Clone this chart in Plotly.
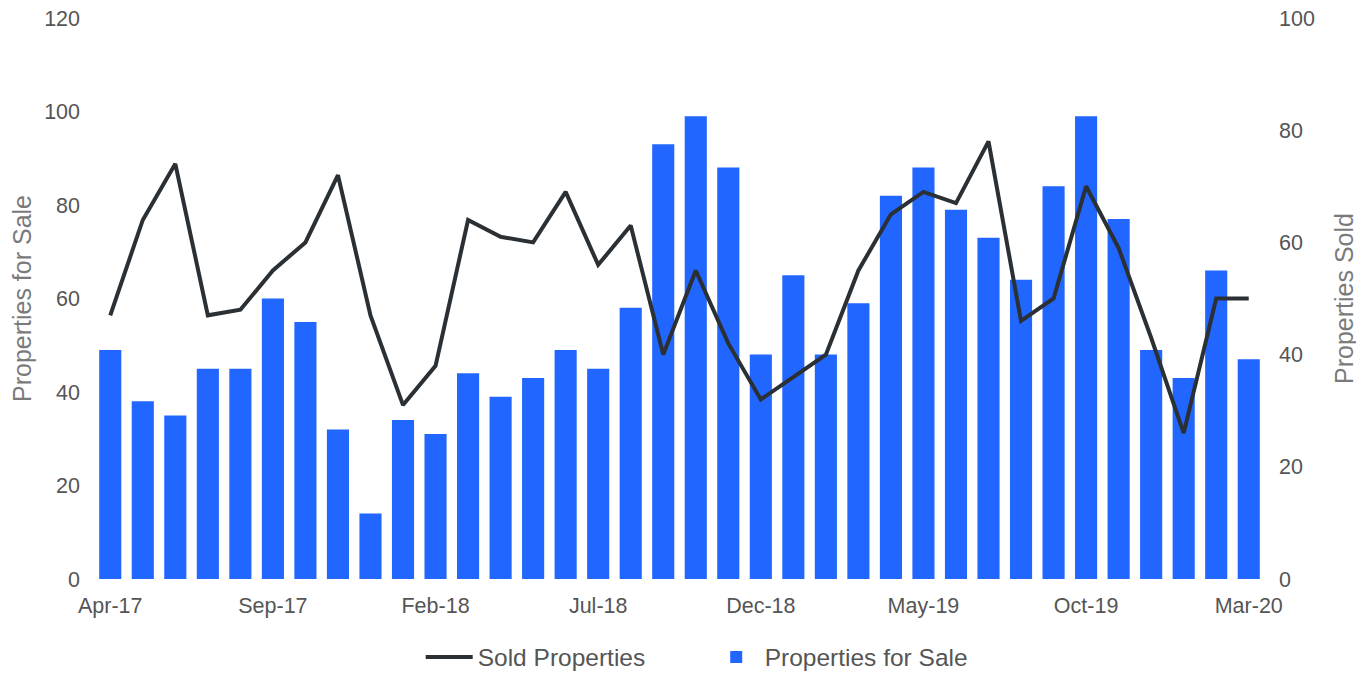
import plotly.graph_objects as go

months = ["Apr-17","May-17","Jun-17","Jul-17","Aug-17","Sep-17","Oct-17","Nov-17","Dec-17",
          "Jan-18","Feb-18","Mar-18","Apr-18","May-18","Jun-18","Jul-18","Aug-18","Sep-18",
          "Oct-18","Nov-18","Dec-18","Jan-19","Feb-19","Mar-19","Apr-19","May-19","Jun-19",
          "Jul-19","Aug-19","Sep-19","Oct-19","Nov-19","Dec-19","Jan-20","Feb-20","Mar-20"]
for_sale = [49,38,35,45,45,60,55,32,14,34,31,44,39,43,49,45,58,93,99,88,48,65,48,59,
            82,88,79,73,64,84,99,77,49,43,66,47]
sold = [47,64,74,47,48,55,60,72,47,31,38,64,61,60,69,56,63,40,55,42,32,36,40,55,
        65,69,67,78,46,50,70,59,43,26,50,50]
tick_labels = ["Apr-17","Sep-17","Feb-18","Jul-18","Dec-18","May-19","Oct-19","Mar-20"]

FONT = "Liberation Sans, Arial, sans-serif"
TICK = "#555555"
TITLE = "#7a7a7a"

fig = go.Figure()
fig.add_trace(go.Bar(x=months, y=for_sale, name="Properties for Sale",
                     marker=dict(color="#2166ff", line=dict(width=0)),
                     legendrank=2, yaxis="y"))
fig.add_trace(go.Scatter(x=months, y=sold, name="Sold Properties", mode="lines",
                         line=dict(color="#2b3035", width=4),
                         legendrank=1, yaxis="y2"))

fig.update_layout(
    width=1364, height=674,
    margin=dict(l=86, r=107, t=10, b=103, autoexpand=False),
    paper_bgcolor="white", plot_bgcolor="white",
    bargap=0.32,
    font=dict(family=FONT, color=TICK, size=21.5),
    xaxis=dict(type="category", categoryorder="array", categoryarray=months,
               range=[-0.5, 35.5], tickmode="array", tickvals=tick_labels,
               ticktext=tick_labels, showgrid=False, showline=False, zeroline=False,
               automargin=False, ticklabeloverflow="allow",
               ticks="", ticklabelstandoff=11, tickfont=dict(size=21.5, color=TICK)),
    yaxis=dict(range=[0, 120], dtick=20, showgrid=False, zeroline=False, showline=False,
               automargin=False, ticklabeloverflow="allow",
               ticks="", ticklabelstandoff=13, tickfont=dict(size=21.5, color=TICK),
               title=dict(text="Properties for Sale", font=dict(size=25, color=TITLE),
                          standoff=15)),
    yaxis2=dict(range=[0, 100], dtick=20, overlaying="y", side="right", showgrid=False,
                zeroline=False, showline=False, ticks="", ticklabelstandoff=13,
                automargin=False, ticklabeloverflow="allow",
                tickfont=dict(size=21.5, color=TICK),
                title=dict(text="Properties Sold", font=dict(size=25, color=TITLE),
                           standoff=21)),
    legend=dict(orientation="h", x=0.279, xanchor="left", y=-0.139, yanchor="middle",
                font=dict(size=24.5, color=TICK), itemwidth=47, entrywidth=225,
                traceorder="normal"),
)

fig.write_html("out.html")
